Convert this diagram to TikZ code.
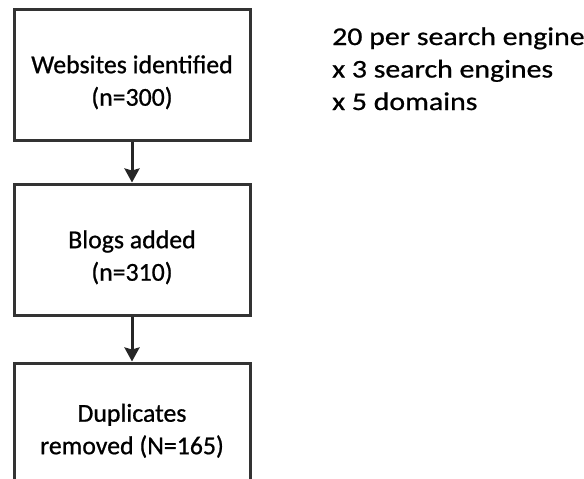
\documentclass[tikz,border=0pt]{standalone}
\usepackage{fontspec}
\setmainfont[FakeBold=0.8]{Carlito}
\newfontfamily\wideface[FakeBold=0.8,FakeStretch=1.17]{Carlito}
\usetikzlibrary{positioning,arrows.meta}

\begin{document}
\begin{tikzpicture}[y=-1pt,x=1pt,
	flowbox/.style={draw=black!80, line width=3pt, minimum width=236pt, minimum height=131pt,
		align=center, inner sep=0pt, text height=66pt, font=\fontsize{25.8}{32.5}\selectfont},
	flowarrow/.style={draw=black!85, line width=3pt, -{Stealth[length=14pt,width=15pt,inset=2pt]}}]
	\useasboundingbox (0,0) rectangle (584,479);

	\node[flowbox] (sites) at (132,74.5) {Websites identified\\(n=300)};
	\node[flowbox, below=41pt of sites] (blogs) {Blogs added\\(n=310)};
	\node[flowbox, below=45pt of blogs, text height=55pt] (dups) {Duplicates\\removed (N=165)};

	\draw[flowarrow] (sites) -- (blogs);
	\draw[flowarrow] (blogs) -- (dups);

	% last line sits on the anchor
	\node[anchor=base west, inner sep=0pt, align=left, font=\wideface\fontsize{25.5}{32.5}\selectfont]
		(calc) at (332,110) {20 per search engine\\x 3 search engines\\x 5 domains};
\end{tikzpicture}
\end{document}
